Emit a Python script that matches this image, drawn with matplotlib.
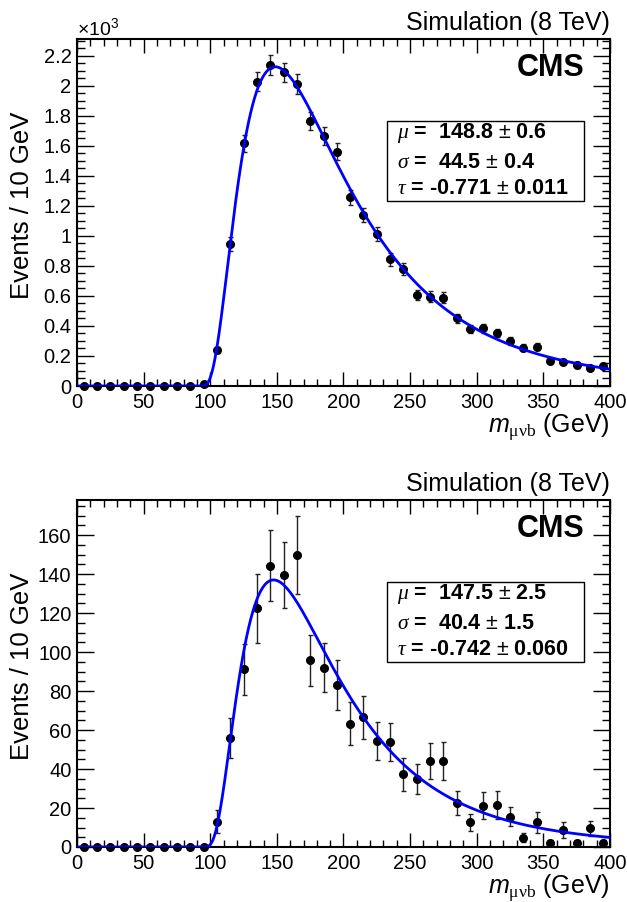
import numpy as np
import matplotlib
matplotlib.use("Agg")
import matplotlib.pyplot as plt
from matplotlib.ticker import MultipleLocator, FixedLocator, FixedFormatter
from matplotlib.patches import Rectangle

plt.rcParams['font.family'] = ['Liberation Sans', 'DejaVu Sans']
plt.rcParams['mathtext.fontset'] = 'custom'
plt.rcParams['mathtext.rm'] = 'Liberation Sans'
plt.rcParams['mathtext.it'] = 'Liberation Sans:italic'
plt.rcParams['mathtext.bf'] = 'Liberation Sans:bold'
plt.rcParams['mathtext.cal'] = 'Liberation Serif:italic'
plt.rcParams['mathtext.sf'] = 'Liberation Serif'

# ---------------- data ----------------
bin_centers = [5, 15, 25, 35, 45, 55, 65, 75, 85, 95,
               105, 115, 125, 135, 145, 155, 165, 175, 185, 195,
               205, 215, 225, 235, 245, 255, 265, 275, 285, 295,
               305, 315, 325, 335, 345, 355, 365, 375, 385, 395]

top_counts = [0, 0, 0, 0, 0, 0, 0, 0, 0, 10,
              240, 944, 1616, 2027, 2138, 2087, 2011, 1765, 1665, 1560,
              1257, 1139, 1010, 844, 781, 606, 595, 588, 451, 378,
              384, 351, 300, 255, 262, 166, 162, 140, 122, 135]
top_errors = [0, 0, 0, 0, 0, 0, 0, 0, 0, 4,
              22, 45, 58, 65, 67, 66, 65, 61, 59, 57,
              51, 49, 46, 42, 40, 36, 35, 35, 31, 28,
              28, 27, 25, 23, 23, 19, 18, 17, 16, 17]

bottom_counts = [0, 0, 0, 0, 0, 0, 0, 0, 0, 0,
                 13.0, 55.7, 91.1, 122.4, 144.3, 139.5, 149.7, 95.8, 92.0, 83.2,
                 63.2, 66.5, 54.5, 53.7, 37.3, 34.9, 44.3, 44.1, 22.7, 12.7,
                 21.2, 21.5, 15.6, 4.8, 12.7, 1.9, 8.7, 1.9, 9.6, 2.2]
bottom_errors = [0, 0, 0, 0, 0, 0, 0, 0, 0, 0,
                 6.0, 10.3, 12.9, 17.8, 18.1, 16.7, 20.0, 13.0, 12.6, 12.7,
                 11.1, 11.1, 9.8, 9.8, 8.4, 7.9, 9.2, 9.6, 6.2, 4.3,
                 6.9, 7.3, 5.0, 2.4, 5.3, 1.5, 4.0, 1.5, 3.9, 1.5]

# fit results (Novosibirsk) shown in the legend boxes
top_mu, top_mu_err = 148.8, 0.6
top_sigma, top_sigma_err = 44.5, 0.4
top_tau, top_tau_err = -0.771, 0.011
top_peak = 2125

bottom_mu, bottom_mu_err = 147.5, 2.5
bottom_sigma, bottom_sigma_err = 40.4, 1.5
bottom_tau, bottom_tau_err = -0.742, 0.060
bottom_peak = 137

top_yticks = [0, 200, 400, 600, 800, 1000, 1200, 1400, 1600, 1800, 2000, 2200]
top_yticklabels = ["0", "0.2", "0.4", "0.6", "0.8", "1", "1.2", "1.4", "1.6", "1.8", "2", "2.2"]
bottom_yticks = [0, 20, 40, 60, 80, 100, 120, 140, 160]
bottom_yticklabels = ["0", "20", "40", "60", "80", "100", "120", "140", "160"]
xticks = [0, 50, 100, 150, 200, 250, 300, 350, 400]


def novosibirsk(x, peak, width, tail):
    xi = 2.0 * np.sqrt(np.log(4.0))
    arg = 1.0 - (x - peak) * tail / width
    out = np.zeros_like(x)
    ok = arg > 1e-7
    lg = np.log(arg[ok])
    w0 = (2.0 / xi) * np.arcsinh(tail * xi * 0.5)
    w02 = w0 * w0
    out[ok] = np.exp(-0.5 / w02 * lg * lg - 0.5 * w02)
    return out


fig = plt.figure(figsize=(6.27, 9.02), dpi=100)
ax_top = fig.add_axes([77 / 627, 1 - 386 / 902, 533 / 627, 347 / 902])
ax_bot = fig.add_axes([77 / 627, 1 - 847 / 902, 533 / 627, 347 / 902])

panels = [
    (ax_top, top_counts, top_errors, (top_mu, top_sigma, top_tau, top_peak),
     (top_mu_err, top_sigma_err, top_tau_err), 2310, top_yticks, top_yticklabels, 50),
    (ax_bot, bottom_counts, bottom_errors, (bottom_mu, bottom_sigma, bottom_tau, bottom_peak),
     (bottom_mu_err, bottom_sigma_err, bottom_tau_err), 178, bottom_yticks, bottom_yticklabels, 5),
]

xf = np.linspace(0, 400, 1601)

for ax, counts, errs, (mu, sg, tau, pk), (mue, sge, taue), ymax, yt, ytl, yminor in panels:
    ax.errorbar(bin_centers, counts, yerr=errs, fmt='o', color='black', ms=5.5,
                ecolor='#222222', elinewidth=1.0, capsize=1.8, capthick=1.0,
                clip_on=False, zorder=3)
    f = novosibirsk(xf, mu, sg, tau)
    ax.plot(xf, f / f.max() * pk, color='#0000ff', lw=2.0, zorder=4)

    ax.set_xlim(0, 400)
    ax.set_ylim(0, ymax)
    ax.xaxis.set_major_locator(FixedLocator(xticks))
    ax.xaxis.set_minor_locator(MultipleLocator(10))
    ax.yaxis.set_major_locator(FixedLocator(yt))
    ax.yaxis.set_major_formatter(FixedFormatter(ytl))
    ax.yaxis.set_minor_locator(MultipleLocator(yminor))
    ax.tick_params(which='both', direction='in', top=True, right=True, labelsize=14.5,
                   width=1.0)
    ax.tick_params(axis='x', which='major', length=10, pad=5)
    ax.tick_params(axis='x', which='minor', length=5)
    ax.tick_params(axis='y', which='major', length=12, pad=4)
    ax.tick_params(axis='y', which='minor', length=6)
    for s in ax.spines.values():
        s.set_linewidth(1.5)

    ax.set_ylabel("Events / 10 GeV", fontsize=18.5, va='center')
    ax.yaxis.set_label_coords(-0.103, 0.52)
    ax.set_xlabel(r"$m_{\mathsf{\mu\nu b}}$ (GeV)", fontsize=18,
                  va='center', ha='right')
    ax.xaxis.set_label_coords(1.0, -0.12)

    ax.text(1.0, 1.027, "Simulation (8 TeV)", transform=ax.transAxes, ha='right',
            va='baseline', fontsize=18)
    ax.text(0.953, 0.917, "CMS", transform=ax.transAxes, ha='right', va='center',
            fontsize=22, fontweight='bold')

    ax.add_patch(Rectangle((0.582, 0.533), 0.369, 0.232, transform=ax.transAxes,
                           fill=True, facecolor='white', edgecolor='black', lw=1.0,
                           zorder=5))
    lines = [
        (r"$\mathcal{\mu}$ =  %.1f $\pm$ %.1f" % (mu, mue), 0.730),
        (r"$\mathcal{\sigma}$ =  %.1f $\pm$ %.1f" % (sg, sge), 0.645),
        (r"$\mathcal{\tau}$ = %.3f $\pm$ %.3f" % (tau, taue), 0.570),
    ]
    for txt, yy in lines:
        ax.text(0.600, yy, txt, transform=ax.transAxes, ha='left', va='center',
                fontsize=15.5, fontweight='bold', zorder=6)

ax_top.text(0.0, 1.012, r"$\times\mathregular{10^{3}}$", transform=ax_top.transAxes,
            ha='left', va='baseline', fontsize=14)

fig.savefig("out.png", dpi=100)
